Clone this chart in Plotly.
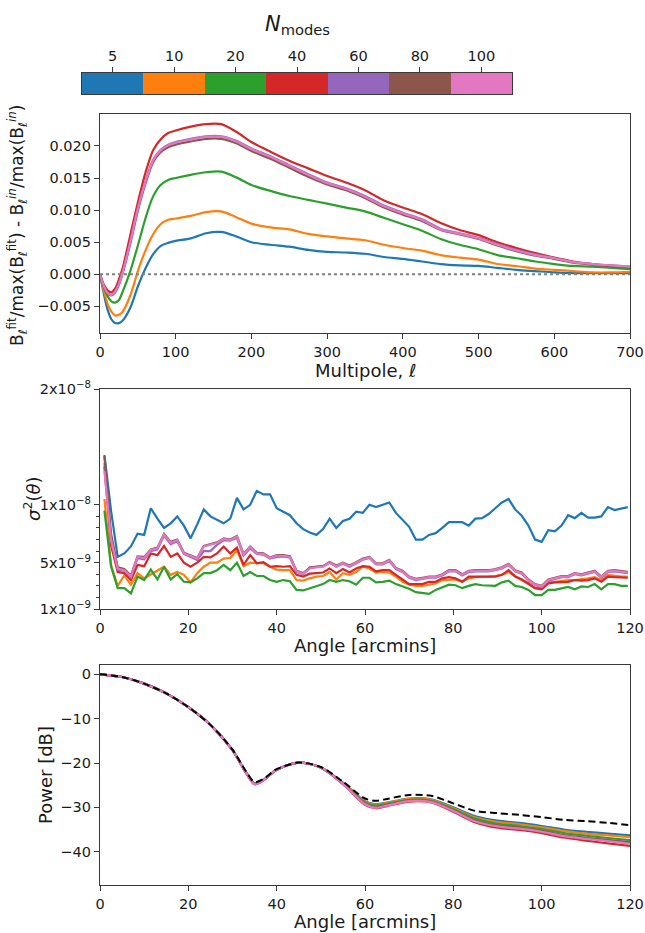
import numpy as np
import plotly.graph_objects as go

# ---------------- data ----------------
n_modes = [5, 10, 20, 40, 60, 80, 100]
colors = ["#1f77b4", "#ff7f0e", "#2ca02c", "#d62728", "#9467bd", "#8c564b", "#e377c2"]

# Panel 1: beam residual vs multipole
ell = [0, 5, 10, 15, 20, 25, 30, 40, 50, 60, 70, 80, 90, 100, 120, 140, 160, 180, 200, 225,
       250, 275, 300, 325, 350, 375, 400, 425, 450, 475, 500, 525, 550, 575, 600, 625, 650, 675, 700]
res_5 = [0, -0.0030, -0.0055, -0.0070, -0.0076, -0.0076, -0.0072, -0.0052, -0.0019, 0.0009, 0.0031, 0.0044,
         0.0049, 0.0052, 0.0056, 0.0064, 0.0066, 0.0059, 0.0050, 0.0046, 0.0043, 0.0038, 0.0035, 0.0034,
         0.0032, 0.0027, 0.0024, 0.0020, 0.0016, 0.0014, 0.0013, 0.0010, 0.0007, 0.0005, 0.0003, 0.0002,
         0.0002, 0.0002, 0.0002]
res_10 = [0, -0.0025, -0.0046, -0.0058, -0.0064, -0.0063, -0.0058, -0.0033, 0.0005, 0.0037, 0.0062, 0.0078,
          0.0085, 0.0087, 0.0091, 0.0097, 0.0098, 0.0089, 0.0079, 0.0073, 0.0070, 0.0063, 0.0059, 0.0056,
          0.0053, 0.0046, 0.0041, 0.0037, 0.0030, 0.0026, 0.0023, 0.0016, 0.0013, 0.0009, 0.0007, 0.0005,
          0.0003, 0.0003, 0.0004]
res_20 = [0, -0.0019, -0.0034, -0.0042, -0.0044, -0.0040, -0.0027, 0.0005, 0.0045, 0.0087, 0.0121, 0.0139,
          0.0147, 0.0150, 0.0155, 0.0159, 0.0160, 0.0151, 0.0139, 0.0130, 0.0122, 0.0116, 0.0110, 0.0104,
          0.0098, 0.0088, 0.0078, 0.0068, 0.0055, 0.0046, 0.0039, 0.0030, 0.0025, 0.0020, 0.0016, 0.0013,
          0.0012, 0.0010, 0.0008]
res_40 = [0, -0.0016, -0.0025, -0.0028, -0.0022, -0.0008, 0.0010, 0.0061, 0.0112, 0.0158, 0.0193, 0.0210,
          0.0220, 0.0224, 0.0230, 0.0234, 0.0234, 0.0222, 0.0206, 0.0191, 0.0177, 0.0165, 0.0153, 0.0143,
          0.0131, 0.0115, 0.0104, 0.0094, 0.0080, 0.0069, 0.0061, 0.0050, 0.0041, 0.0033, 0.0026, 0.0020,
          0.0016, 0.0013, 0.0011]
res_60 = [0, -0.0018, -0.0029, -0.0032, -0.0027, -0.0014, 0.0004, 0.0051, 0.0103, 0.0145, 0.0178, 0.0194,
          0.0202, 0.0206, 0.0211, 0.0215, 0.0215, 0.0208, 0.0196, 0.0184, 0.0170, 0.0156, 0.0143, 0.0134,
          0.0122, 0.0107, 0.0096, 0.0086, 0.0071, 0.0064, 0.0057, 0.0047, 0.0038, 0.0031, 0.0025, 0.0019,
          0.0016, 0.0014, 0.0012]
res_80 = [0, -0.0019, -0.0030, -0.0033, -0.0028, -0.0016, 0.0002, 0.0048, 0.0099, 0.0141, 0.0174, 0.0190,
          0.0198, 0.0202, 0.0207, 0.0211, 0.0211, 0.0204, 0.0192, 0.0180, 0.0166, 0.0152, 0.0140, 0.0131,
          0.0119, 0.0104, 0.0093, 0.0083, 0.0069, 0.0062, 0.0055, 0.0045, 0.0036, 0.0029, 0.0024, 0.0018,
          0.0015, 0.0013, 0.0011]
res_100 = [0, -0.0018, -0.0029, -0.0032, -0.0027, -0.0015, 0.0003, 0.0050, 0.0102, 0.0144, 0.0177, 0.0193,
           0.0201, 0.0205, 0.0210, 0.0214, 0.0214, 0.0207, 0.0195, 0.0183, 0.0169, 0.0155, 0.0142, 0.0133,
           0.0121, 0.0106, 0.0095, 0.0085, 0.0070, 0.0063, 0.0056, 0.0046, 0.0037, 0.0030, 0.0025, 0.0019,
           0.0016, 0.0014, 0.0012]

# Panel 2: sigma^2(theta) in units of 1e-9
angle_sig = np.arange(1.0, 120.0, 1.5)
sig_5 = [14.3, 9.5, 5.5, 5.8, 6.4, 7.5, 7.4, 9.7, 8.8, 8.0,
         8.4, 9.0, 8.2, 7.1, 8.3, 9.6, 9.0, 8.7, 8.4, 8.8,
         10.6, 9.6, 10.0, 11.2, 10.9, 10.9, 9.7, 9.4, 9.1, 8.4,
         7.9, 7.6, 7.4, 7.9, 8.8, 8.0, 8.6, 8.8, 9.4, 9.3,
         10.0, 9.8, 10.0, 10.2, 9.3, 8.7, 8.1, 7.0, 7.0, 7.4,
         7.55, 8.0, 8.5, 8.5, 8.5, 8.2, 8.8, 8.85, 9.2, 9.7,
         10.2, 10.5, 9.6, 9.05, 8.2, 7.0, 6.8, 7.8, 7.7, 8.2,
         9.1, 8.85, 9.3, 8.9, 8.9, 9.0, 9.8, 9.55, 9.7, 9.8]
sig_10 = [10.5, 4.8, 3.0, 3.9, 3.1, 4.1, 3.65, 4.0, 4.35, 4.65,
          3.95, 4.2, 3.95, 3.3, 4.1, 4.65, 5.0, 5.0, 5.35, 5.4,
          6.1, 4.7, 5.0, 5.0, 4.95, 4.65, 4.4, 4.35, 4.35, 3.5,
          3.45, 3.65, 3.8, 3.85, 4.2, 3.55, 4.1, 3.95, 4.2, 4.65,
          4.5, 4.15, 4.2, 4.15, 3.8, 3.35, 3.1, 3.0, 3.0, 3.1,
          3.2, 3.5, 3.55, 3.55, 3.35, 3.65, 3.75, 3.75, 3.8, 3.85,
          3.95, 4.2, 3.85, 3.5, 3.1, 2.8, 2.8, 3.35, 3.35, 3.45,
          3.5, 3.5, 3.55, 3.65, 3.75, 3.5, 3.95, 3.85, 3.8, 3.8]
sig_20 = [9.5, 4.7, 2.8, 2.8, 2.35, 3.8, 3.5, 4.4, 3.55, 4.65,
          3.55, 4.0, 3.35, 3.3, 3.65, 4.1, 4.1, 4.35, 4.8, 4.35,
          5.0, 3.85, 4.2, 3.85, 3.85, 3.5, 3.35, 3.5, 3.4, 2.65,
          2.6, 2.8, 2.95, 3.15, 3.5, 3.35, 3.5, 3.4, 3.1, 3.7,
          3.7, 3.3, 3.35, 3.45, 3.15, 2.95, 2.75, 2.45, 2.4, 2.3,
          2.65, 2.9, 3.1, 3.05, 2.8, 3.0, 3.15, 3.05, 3.0, 3.0,
          3.3, 3.45, 3.0, 2.9, 2.65, 2.2, 2.2, 2.65, 2.65, 2.75,
          2.9, 2.7, 2.95, 2.9, 3.15, 2.7, 3.15, 3.15, 3.0, 3.0]
sig_40 = [13.3, 6.5, 4.2, 4.1, 3.5, 4.8, 4.7, 5.8, 5.65, 6.45,
          5.5, 5.8, 5.0, 4.65, 5.0, 5.5, 5.45, 5.8, 6.4, 5.8,
          6.3, 4.8, 5.65, 4.95, 5.05, 4.65, 4.7, 4.65, 4.7, 3.95,
          3.8, 4.05, 4.1, 4.15, 4.5, 4.1, 4.45, 4.15, 4.5, 4.7,
          4.65, 4.25, 4.35, 4.35, 3.95, 3.55, 3.15, 3.15, 3.15, 3.35,
          3.35, 3.65, 3.75, 3.65, 3.35, 3.8, 3.8, 3.8, 3.8, 3.8,
          3.95, 4.35, 3.8, 3.55, 3.2, 2.8, 2.7, 3.2, 3.3, 3.35,
          3.35, 3.5, 3.45, 3.5, 3.65, 3.35, 3.8, 3.75, 3.75, 3.7]
sig_60 = [13.6, 7.0, 4.4, 4.3, 3.75, 5.4, 5.3, 6.0, 6.15, 7.35,
          6.6, 6.85, 5.75, 5.5, 5.25, 6.0, 6.0, 6.55, 6.95, 6.9,
          7.15, 5.6, 6.25, 5.75, 5.7, 5.35, 5.5, 5.55, 5.45, 4.2,
          4.0, 4.6, 4.65, 4.7, 5.0, 4.65, 4.9, 4.65, 4.95, 5.25,
          5.4, 4.85, 4.85, 5.15, 4.45, 4.2, 3.7, 3.5, 3.6, 3.7,
          3.7, 3.9, 4.25, 4.25, 3.9, 4.2, 4.25, 4.25, 4.25, 4.35,
          4.5, 4.8, 4.25, 4.05, 3.45, 3.05, 2.9, 3.45, 3.6, 3.75,
          3.75, 4.0, 3.9, 4.05, 4.2, 3.7, 4.2, 4.25, 4.2, 4.1]
sig_80 = [14.2, 7.5, 4.6, 4.45, 3.9, 5.55, 5.5, 6.15, 6.3, 7.5,
          6.8, 7.0, 5.85, 5.65, 5.4, 6.45, 6.6, 6.75, 7.1, 7.0,
          7.3, 5.75, 6.4, 5.85, 5.8, 5.45, 5.65, 5.65, 5.55, 4.3,
          4.1, 4.55, 4.65, 4.7, 5.05, 4.75, 5.0, 4.75, 5.05, 5.35,
          5.5, 4.95, 4.95, 5.25, 4.55, 4.3, 3.8, 3.6, 3.7, 3.8,
          3.8, 4.0, 4.35, 4.35, 4.0, 4.3, 4.35, 4.35, 4.35, 4.45,
          4.6, 4.9, 4.35, 4.15, 3.55, 3.15, 3.0, 3.55, 3.7, 3.85,
          3.85, 4.1, 4.0, 4.15, 4.3, 3.8, 4.3, 4.35, 4.3, 4.2]
sig_100 = [12.9, 7.0, 4.5, 4.35, 3.8, 5.5, 5.4, 6.1, 6.25, 7.45,
           6.7, 6.95, 5.8, 5.6, 5.35, 6.4, 6.55, 6.7, 7.05, 6.95,
           7.25, 5.7, 6.35, 5.8, 5.75, 5.4, 5.6, 5.6, 5.5, 4.25,
           4.05, 4.5, 4.6, 4.65, 5.0, 4.7, 4.95, 4.7, 5.0, 5.3,
           5.45, 4.9, 4.9, 5.2, 4.5, 4.25, 3.75, 3.55, 3.65, 3.75,
           3.75, 3.95, 4.3, 4.3, 3.95, 4.25, 4.3, 4.3, 4.3, 4.4,
           4.55, 4.85, 4.3, 4.1, 3.5, 3.1, 2.95, 3.5, 3.65, 3.8,
           3.8, 4.05, 3.95, 4.1, 4.25, 3.75, 4.25, 4.3, 4.25, 4.15]
sig_scale = 1e-9

# Panel 3: beam power profile (dB)
angle_pw = [0, 5, 10, 15, 20, 25, 30, 33, 35, 37, 40, 45, 50, 55, 60, 62.5, 65, 70, 75, 80,
            85, 90, 95, 100, 105, 110, 115, 120]
pw_input = [0, -0.6, -2.1, -4.3, -7.4, -11.4, -17.0, -21.8, -24.3, -23.6, -21.4, -19.9, -20.9, -24.2,
            -28.0, -28.5, -28.1, -27.2, -27.4, -29.1, -30.8, -31.3, -31.7, -32.2, -32.8, -33.1, -33.5, -34.0]
pw_5 = [0, -0.6, -2.1, -4.3, -7.4, -11.4, -17.1, -22.0, -24.6, -23.8, -21.5, -19.9, -21.0, -24.4,
        -28.6, -29.3, -28.9, -28.0, -28.2, -30.0, -32.0, -33.0, -33.5, -34.2, -35.0, -35.5, -35.9, -36.3]
pw_10 = [0, -0.6, -2.1, -4.3, -7.4, -11.4, -17.1, -22.0, -24.6, -23.8, -21.5, -19.9, -21.0, -24.5,
         -28.7, -29.4, -29.0, -28.1, -28.3, -30.2, -32.3, -33.3, -33.8, -34.5, -35.3, -35.9, -36.3, -36.7]
pw_20 = [0, -0.6, -2.1, -4.3, -7.4, -11.4, -17.1, -22.0, -24.6, -23.8, -21.5, -19.9, -21.0, -24.6,
         -28.9, -29.6, -29.2, -28.3, -28.5, -30.4, -32.6, -33.7, -34.2, -34.9, -35.8, -36.4, -36.9, -37.4]
pw_40 = [0, -0.6, -2.1, -4.3, -7.4, -11.4, -17.1, -22.1, -24.8, -23.9, -21.5, -19.9, -21.0, -24.7,
         -29.4, -30.2, -29.7, -28.7, -28.9, -31.0, -33.4, -34.6, -35.1, -35.8, -36.8, -37.5, -38.1, -38.7]
pw_60 = [0, -0.6, -2.1, -4.3, -7.4, -11.4, -17.1, -22.1, -24.7, -23.9, -21.5, -19.9, -21.0, -24.7,
         -29.1, -29.9, -29.4, -28.5, -28.7, -30.7, -33.0, -34.1, -34.6, -35.3, -36.3, -36.9, -37.4, -37.9]
pw_80 = [0, -0.6, -2.1, -4.3, -7.4, -11.4, -17.1, -22.1, -24.7, -23.9, -21.5, -19.9, -21.0, -24.7,
         -29.1, -29.9, -29.4, -28.5, -28.7, -30.7, -33.0, -34.1, -34.6, -35.3, -36.3, -36.9, -37.4, -37.9]
pw_100 = [0, -0.6, -2.1, -4.3, -7.4, -11.4, -17.1, -22.1, -24.8, -23.9, -21.5, -19.9, -21.0, -24.7,
          -29.3, -30.1, -29.6, -28.6, -28.8, -30.8, -33.2, -34.3, -34.8, -35.5, -36.5, -37.1, -37.6, -38.2]

res_series = [res_5, res_10, res_20, res_40, res_60, res_80, res_100]
sig_series = [sig_5, sig_10, sig_20, sig_40, sig_60, sig_80, sig_100]
pw_series = [pw_5, pw_10, pw_20, pw_40, pw_60, pw_80, pw_100]

# ---------------- layout helpers ----------------
W, H = 645, 933
FONT = "DejaVu Sans"
TXT = "#1a1a1a"
AXC = "#3a3a3a"


def px_x(p):
    return p / W


def px_y(p):
    return 1 - p / H


fig = go.Figure()

LW = 2.2
for n, c, ys in zip(n_modes, colors, res_series):
    fig.add_trace(go.Scatter(x=ell, y=ys, mode="lines", line=dict(color=c, width=LW, shape="spline", smoothing=0.8),
                             xaxis="x", yaxis="y", showlegend=False, name=str(n)))
for n, c, ys in zip(n_modes, colors, sig_series):
    fig.add_trace(go.Scatter(x=angle_sig, y=np.array(ys) * sig_scale, mode="lines",
                             line=dict(color=c, width=LW), xaxis="x2", yaxis="y2", showlegend=False, name=str(n)))
for n, c, ys in zip(n_modes, colors, pw_series):
    fig.add_trace(go.Scatter(x=angle_pw, y=ys, mode="lines", line=dict(color=c, width=LW, shape="spline", smoothing=0.8),
                             xaxis="x3", yaxis="y3", showlegend=False, name=str(n)))
fig.add_trace(go.Scatter(x=angle_pw, y=pw_input, mode="lines",
                         line=dict(color="black", width=2, dash="7px,4px", shape="spline", smoothing=0.8),
                         xaxis="x3", yaxis="y3", showlegend=False, name="input"))

# discrete colour bar
cscale = []
for i, c in enumerate(colors):
    cscale.append([i / len(colors), c])
    cscale.append([(i + 1) / len(colors), c])
fig.add_trace(go.Heatmap(z=[list(range(len(n_modes)))], x=list(range(len(n_modes))), y=[0],
                         colorscale=cscale, zmin=-0.5, zmax=len(n_modes) - 0.5, showscale=False,
                         xaxis="x4", yaxis="y4", hoverinfo="skip"))

common = dict(showline=True, linecolor=AXC, linewidth=1.3, mirror=True, ticks="outside", ticklen=5,
              tickwidth=1.3, tickcolor=AXC, showgrid=False, zeroline=False, automargin=False,
              tickfont=dict(family=FONT, size=14.5, color=TXT))

xd = [px_x(100), px_x(630)]
fig.update_layout(
    width=W, height=H, margin=dict(l=0, r=0, t=0, b=0, autoexpand=False),
    paper_bgcolor="white", plot_bgcolor="white", showlegend=False,
    xaxis=dict(domain=xd, anchor="y", range=[0, 700], tickvals=[0, 100, 200, 300, 400, 500, 600, 700], **common),
    yaxis=dict(domain=[px_y(333), px_y(114)], anchor="x", range=[-0.00914, 0.02497],
               tickvals=[-0.005, 0, 0.005, 0.01, 0.015, 0.02], tickformat=".3f", **common),
    xaxis2=dict(domain=xd, anchor="y2", range=[0, 120], tickvals=[0, 20, 40, 60, 80, 100, 120], **common),
    yaxis2=dict(domain=[px_y(609), px_y(389)], anchor="x2", range=[1e-9, 2e-8],
                tickvals=[1e-9, 5e-9, 1e-8, 2e-8],
                ticktext=["1x10<sup>−9</sup>", "5x10<sup>−9</sup>", "1x10<sup>−8</sup>", "2x10<sup>−8</sup>"],
                minor=dict(tickmode="array", tickvals=[2e-9, 3e-9, 4e-9, 6e-9, 7e-9, 8e-9, 9e-9],
                           ticks="outside", ticklen=3, tickwidth=1, tickcolor=AXC),
                **common),
    xaxis3=dict(domain=xd, anchor="y3", range=[0, 120], tickvals=[0, 20, 40, 60, 80, 100, 120], **common),
    yaxis3=dict(domain=[px_y(885), px_y(665)], anchor="x3", range=[-47.5, 2.1],
                tickvals=[0, -10, -20, -30, -40], **common),
    xaxis4=dict(domain=[px_x(82), px_x(512)], anchor="y4", range=[-0.5, len(n_modes) - 0.5], side="top",
                tickvals=list(range(len(n_modes))), ticktext=[str(v) for v in n_modes], **common),
    yaxis4=dict(domain=[px_y(94), px_y(73)], anchor="x4", range=[-0.5, 0.5], showticklabels=False,
                showline=True, linecolor=AXC, linewidth=1.3, mirror=True, ticks="", showgrid=False,
                zeroline=False, automargin=False),
)

fig.add_hline(y=0, line=dict(color="gray", width=2, dash="dot"), xref="x", yref="y")


def ann(text, x, y, size, angle=0):
    fig.add_annotation(text=text, x=px_x(x), y=px_y(y), xref="paper", yref="paper", showarrow=False,
                       xanchor="center", yanchor="middle", textangle=angle,
                       font=dict(family=FONT, size=size, color=TXT))


ann("<i>N</i><sub>modes</sub>", 297, 25, 21)
ann("Multipole, <i>ℓ</i>", 365, 370, 18)
ann("Angle [arcmins]", 365, 645, 18)
ann("Angle [arcmins]", 365, 921, 18)
ann("B<sub><i>ℓ</i></sub><sup>fit</sup>/max(B<sub><i>ℓ</i></sub><sup>fit</sup>) - "
    "B<sub><i>ℓ</i></sub><sup><i>in</i></sup>/max(B<sub><i>ℓ</i></sub><sup><i>in</i></sup>)",
    17, 226, 17, -90)
ann("<i>σ</i><sup>2</sup>(<i>θ</i>)", 32, 499, 18, -90)
ann("Power [dB]", 45, 775, 18, -90)

fig.write_html("out.html")
